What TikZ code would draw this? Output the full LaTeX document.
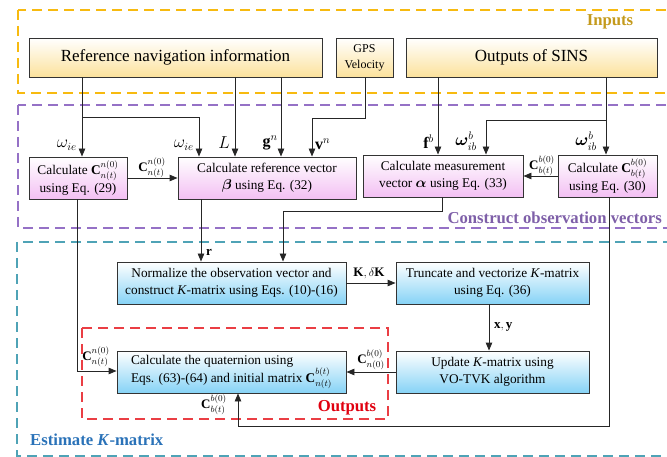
\documentclass[tikz,border=0pt]{standalone}
\usepackage{amsmath,bm}
\usepackage{fontspec}
\setmainfont{Liberation Serif}
\usetikzlibrary{calc}
\usetikzlibrary{arrows.meta}

\definecolor{yelfill}{HTML}{FCE29C}
\definecolor{pinkfill}{HTML}{F3C0F3}
\definecolor{bluefill}{HTML}{86D3F6}
\definecolor{yelline}{HTML}{F7BA10}
\definecolor{purline}{HTML}{9571C6}
\definecolor{tealline}{HTML}{4FA3B6}
\definecolor{redline}{HTML}{EA3E44}
\definecolor{yeltext}{HTML}{C49A1C}
\definecolor{purtext}{HTML}{7E5FA8}
\definecolor{bluetext}{HTML}{2A72B8}
\definecolor{redtext}{HTML}{E0000F}

\tikzset{
	blk/.style={draw=black!80, line width=0.9pt, align=center, inner sep=1pt,
		font=\fontsize{13.3}{17.5}\selectfont},
	inbox/.style={blk, top color=white, bottom color=yelfill, minimum height=39pt},
	obsbox/.style={blk, top color=white, bottom color=pinkfill, minimum height=42pt},
	estbox/.style={blk, top color=white, bottom color=bluefill, minimum height=42pt},
	arr/.style={-{Triangle[length=8pt,width=6.5pt]}, line width=0.9pt, draw=black!85},
	frm/.style={dash pattern=on 10pt off 6pt, line width=1.2pt},
	lbl/.style={inner sep=1pt, font=\fontsize{13}{13}\selectfont},
	inlbl/.style={inner sep=1pt, font=\fontsize{16}{16}\selectfont},
	grp/.style={inner sep=0pt, font=\fontsize{16.7}{16.7}\selectfont\bfseries},
}

\begin{document}
\begin{tikzpicture}[x=1pt, y=-1pt]
	\useasboundingbox (0,0) rectangle (667,457);

	% dashed frames
	\draw[frm, yelline] (18,10) rectangle (675,93);
	\draw[frm, purline] (18,105) rectangle (675,228);
	\draw[frm, tealline] (17,242) rectangle (675,456);
	\draw[frm, redline] (82,328) rectangle (388,419);

	\node[grp, yeltext] (ginputs) at (610,22) {Inputs};
	\node[grp, purtext, anchor=east] (gobs) at (662,218) {Construct observation vectors};
	\node[grp, bluetext, anchor=west] (gest) at (30,440) {Estimate \textit{K}-matrix};
	\node[grp, redtext] (gout) at (347,408) {Outputs};

	% inputs
	\node[inbox, minimum width=293pt, font=\fontsize{17}{17}\selectfont] (refnav) at (175.5,57.5) {Reference navigation information};
	\node[inbox, minimum width=57pt, font=\fontsize{12}{16}\selectfont] (gps) at (364.5,57.5) {GPS\\Velocity};
	\node[inbox, minimum width=251pt, font=\fontsize{17}{17}\selectfont] (sins) at (531.5,57.5) {Outputs of SINS};

	% observation vectors
	\node[obsbox, minimum width=98pt] (calcn) at (78,178) {Calculate $\mathbf{C}_{n(t)}^{n(0)}$\\using Eq. (29)};
	\node[obsbox, minimum width=178pt] (refvec) at (267,178) {Calculate reference vector\\$\bm{\beta}$ using Eq. (32)};
	\node[obsbox, minimum width=160pt] (meas) at (443,176) {Calculate measurement\\vector $\bm{\alpha}$ using Eq. (33)};
	\node[obsbox, minimum width=99pt] (calcb) at (607.5,176) {Calculate $\mathbf{C}_{b(t)}^{b(0)}$\\using Eq. (30)};

	% K-matrix
	\node[estbox, minimum width=229pt] (norm) at (231.5,283) {Normalize the observation vector and\\construct \textit{K}-matrix using Eqs. (10)-(16)};
	\node[estbox, minimum width=193pt] (trunc) at (492.5,283) {Truncate and vectorize \textit{K}-matrix\\using Eq. (36)};
	\node[estbox, minimum width=193pt] (update) at (492.5,372) {Update \textit{K}-matrix using\\VO-TVK algorithm};
	\node[estbox, minimum width=229pt, align=left] (quat) at (231.5,372) {Calculate the quaternion using\\Eqs. (63)-(64) and initial matrix $\mathbf{C}_{n(t)}^{b(t)}$};

	% bends
	\coordinate (wie) at (82,117);
	\coordinate (wie2) at (199,117);
	\coordinate (vel) at (365,118);
	\coordinate (vel2) at (312,118);
	\coordinate (wib) at (606,120);
	\coordinate (wib2) at (486,120);
	\coordinate (fb) at (438,0);
	\coordinate (Lx) at (235,0);
	\coordinate (gx) at (281,0);
	\coordinate (cn) at (77,371);
	\coordinate (al) at (442,211);
	\coordinate (al2) at (283,211);
	\coordinate (rx) at (201,0);
	\coordinate (cb) at (609,426);
	\coordinate (cb2) at (238,426);
	\coordinate (xy) at (489,0);

	\draw[arr] (refnav.south -| wie) -- (calcn.north -| wie);
	\draw[arr] (wie) -| (wie2) -- (refvec.north -| wie2);
	\draw[arr] (refnav.south -| Lx) -- (refvec.north -| Lx);
	\draw[arr] (refnav.south -| gx) -- (refvec.north -| gx);
	\draw[arr] (gps.south -| vel) -- (vel) -| (vel2) -- (refvec.north -| vel2);
	\draw[arr] (sins.south -| fb) -- (meas.north -| fb);
	\draw[arr] (sins.south -| wib) -- (calcb.north -| wib);
	\draw[arr] (wib) -| (wib2) -- (meas.north -| wib2);
	\draw[arr] (calcn.east) -- (refvec.west |- calcn.east);
	\draw[arr] (calcb.west) -- (meas.east |- calcb.west);

	\draw[arr] (refvec.south -| rx) -- (norm.north -| rx);
	\draw[arr] (meas.south -| al) -- (al) -| (al2) -- (norm.north -| al2);
	\draw[arr] (calcn.south -| cn) -- (cn) -- (quat.west |- cn);
	\draw[arr] (norm.east) -- (trunc.west);
	\draw[arr] (trunc.south -| xy) -- (update.north -| xy);
	\draw[arr] (update.west) -- (quat.east);
	\draw[arr] (calcb.south -| cb) -- (cb) -| (cb2) -- (quat.south -| cb2);

	% signal labels
	\node[inlbl, anchor=east] (l1) at (78,145) {$\omega_{ie}$};
	\node[inlbl, anchor=east] (l2) at (195,145) {$\omega_{ie}$};
	\node[inlbl, anchor=east] (l3) at (231,143) {$L$};
	\node[inlbl, anchor=east] (l4) at (279,143) {$\mathbf{g}^{n}$};
	\node[inlbl, anchor=west] (l5) at (314,144) {$\mathbf{v}^{n}$};
	\node[inlbl, anchor=east] (l6) at (435,142) {$\mathbf{f}^{b}$};
	\node[inlbl, anchor=east] (l7) at (478,141) {$\boldsymbol{\omega}^{b}_{ib}$};
	\node[inlbl, anchor=east] (l8) at (598,141) {$\boldsymbol{\omega}^{b}_{ib}$};
	\node[lbl] (l9) at (152,168) {$\mathbf{C}_{n(t)}^{n(0)}$};
	\node[lbl] (l10) at (542,166) {$\mathbf{C}_{b(t)}^{b(0)}$};
	\node[lbl, anchor=west] (l11) at (205,252) {$\mathbf{r}$};
	\node[lbl] (l12) at (369,273) {$\mathbf{K},\delta\mathbf{K}$};
	\node[lbl, anchor=west] (l13) at (493,327) {$\mathbf{x},\mathbf{y}$};
	\node[lbl] (l14) at (371,360) {$\mathbf{C}_{n(0)}^{b(0)}$};
	\node[lbl] (l15) at (96,357) {$\mathbf{C}_{n(t)}^{n(0)}$};
	\node[lbl] (l16) at (214,405) {$\mathbf{C}_{b(t)}^{b(0)}$};

\end{tikzpicture}
\end{document}
